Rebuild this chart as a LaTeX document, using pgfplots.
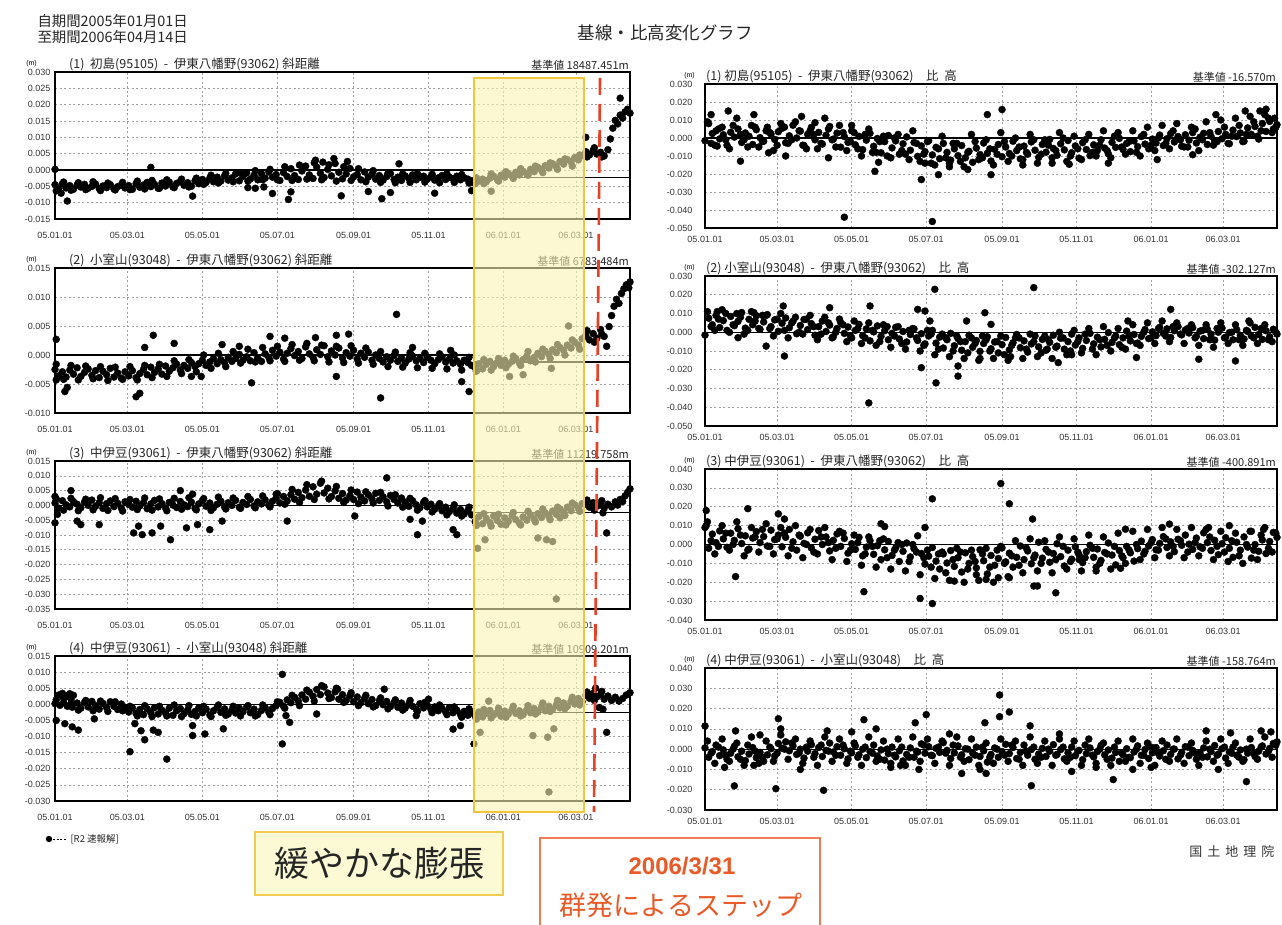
\documentclass[border=0pt]{standalone}
\usepackage{fontspec}
\setmainfont{Liberation Sans}
\newfontfamily\jp{Noto Sans CJK JP}
\usepackage{pgfplots}
\pgfplotsset{compat=1.18}
\definecolor{ovl}{RGB}{250,245,180}
\definecolor{ovlb}{RGB}{240,198,60}
\definecolor{redl}{RGB}{232,64,36}
\definecolor{orng}{RGB}{232,90,40}
\definecolor{lblbox}{RGB}{252,250,212}
\pgfplotsset{
  panel/.style={scale only axis, anchor=south west, xmin=0, xmax=468, clip=false,
    xtick={0,59,120,181,243,304,365,424},
    xticklabels={05.01.01,05.03.01,05.05.01,05.07.01,05.09.01,05.11.01,06.01.01,06.03.01},
    grid=major,
    major grid style={gray!75, line width=0.6pt, dash pattern=on 2pt off 2.5pt},
    major tick length=0pt,
    axis line style={black, line width=1.3pt},
    ticklabel style={font=\fontsize{9}{10}\selectfont, text=black!80},
  },
  lp/.style={panel, width=575pt, yticklabel style={xshift=-1pt}, xticklabel style={yshift=-10pt}},
  rp/.style={panel, width=572pt, yticklabel style={xshift=-9pt}, xticklabel style={yshift=-5pt}},
  pts/.style={only marks, mark=*, mark size=3.5pt, black, mark options={draw=black, fill=black}},
  zl/.style={black, line width=1.1pt, no marks},
}
\tikzset{tt/.style={font=\jp\fontsize{12.5}{14}\selectfont, text=black!85, inner sep=1pt},
  kj/.style={font=\jp\fontsize{11}{12}\selectfont, text=black!85, inner sep=1pt, anchor=south east},
  mm/.style={font=\fontsize{7}{8}\selectfont, inner sep=0pt, anchor=south east}}
\begin{document}
\begin{tikzpicture}[x=1pt,y=1pt]
\path[use as bounding box] (0,0) rectangle (1282,924);
\fill[white] (0,0) rectangle (1282,924);
% ---------------- L1
\begin{axis}[lp, at={(55pt,705pt)}, height=147pt, ymin=-15, ymax=30, ytick={-15,-10,...,30},
  yticklabels={-0.015,-0.010,-0.005,0.000,0.005,0.010,0.015,0.020,0.025,0.030}]
\addplot[zl] coordinates {(0,0)(341,0)};
\addplot[zl] coordinates {(341,-2.4)(468,-2.4)};
\addplot[pts] coordinates {(0,-4.5)(3,-5.8)(6,-4.2)(9,-5.5)(12,-4.8)(15,-5.9)(18,-4.6)(21,-5.2)(24,-4.4)(27,-5.6)(30,-5.0)(33,-4.3)(36,-5.7)(39,-4.9)(42,-5.4)(45,-4.5)(48,-5.8)(51,-5.1)(54,-4.6)(57,-5.5)(60,-4.8)(63,-5.9)(66,-4.2)(69,-5.3)(72,-4.6)(75,-3.8)(78,-5.1)(81,-4.4)(84,-5.6)(87,-4.0)(90,-4.9)(93,-3.7)(96,-5.2)(99,-4.1)(102,-3.5)(105,-4.7)(108,-3.9)(111,-5.0)(114,-3.3)(117,-4.2)(120,-2.9)(123,-3.8)(126,-2.5)(129,-3.6)(132,-2.2)(135,-3.4)(138,-1.8)(141,-3.1)(144,-2.4)(147,-1.2)(150,-3.3)(153,-2.0)(156,-0.9)(159,-2.8)(162,-1.6)(165,-3.0)(168,-1.1)(171,-2.5)(174,-0.6)(177,-2.2)(180,-1.4)(183,-3.2)(186,-0.8)(189,-2.0)(192,0.4)(195,-1.7)(198,-2.9)(201,-0.3)(204,1.2)(207,-1.5)(210,-2.6)(213,0.9)(216,-1.0)(219,-2.3)(222,0.2)(225,-1.8)(228,2.0)(231,-0.7)(234,-2.7)(237,-1.2)(240,0.5)(243,-2.1)(246,-1.4)(249,-3.0)(252,-0.6)(255,-2.2)(258,-1.3)(261,-2.8)(264,-1.7)(267,-3.1)(270,-2.0)(273,-1.1)(276,-2.9)(279,-2.2)(282,-3.2)(285,-1.8)(288,-2.6)(291,-1.5)(294,-3.0)(297,-2.3)(300,-1.9)(303,-2.8)(306,-2.1)(309,-3.1)(312,-2.4)(315,-1.7)(318,-2.9)(321,-2.2)(324,-2.7)(327,-1.9)(330,-3.0)(333,-2.4)(336,-2.8)(339,-3.3)(342,-4.2)(345,-3.4)(348,-2.8)(351,-3.6)(354,-2.5)(357,-1.9)(360,-2.9)(363,-1.6)(366,-2.2)(369,-1.1)(372,-1.8)(375,-0.7)(378,-1.5)(381,-0.4)(384,-1.2)(387,0.2)(390,-0.5)(393,0.8)(396,0.0)(399,1.3)(402,0.6)(405,1.9)(408,1.1)(411,2.6)(414,1.8)(417,3.2)(420,2.5)(423,3.8)(426,3.1)(429,4.4)(432,5.6)(435,4.6)(438,5.9)(441,4.9)(444,5.4)(447,4.3)(450,6.2)(452,9.5)(454,12.8)(456,15.2)(458,14.1)(460,16.8)(462,15.9)(464,17.8)(466,18.6)(468,17.4)
(1,-6.4)(7,-3.7)(13,-6.2)(19,-3.9)(25,-6.0)(31,-3.6)(37,-6.3)(43,-4.0)(49,-6.1)(55,-3.8)(61,-6.0)(67,-3.4)(73,-5.8)(79,-3.2)(85,-5.6)(91,-3.0)(97,-5.4)(103,-2.8)(109,-5.2)(115,-2.5)(121,-4.4)(127,-1.6)(133,-4.0)(139,-1.0)(145,-3.6)(151,-0.8)(157,-3.4)(163,-0.2)(169,-3.0)(175,0.2)(181,-3.0)(187,1.0)(193,-3.2)(199,1.5)(205,-2.8)(211,2.2)(217,-3.0)(223,1.6)(229,-3.4)(235,1.0)(241,-3.2)(247,0.4)(253,-3.6)(259,-0.2)(265,-3.8)(271,-1.0)(277,-3.9)(283,-1.2)(289,-3.8)(295,-1.1)(301,-3.7)(307,-1.3)(313,-3.9)(319,-1.2)(325,-3.8)(331,-1.4)(337,-4.0)(343,-2.4)(349,-4.2)(355,-1.2)(361,-3.4)(367,-0.5)(373,-2.6)(379,0.4)(385,-1.6)(391,1.2)(397,-0.8)(403,2.2)(409,0.2)(415,3.4)(421,1.2)(427,4.6)(433,4.0)(439,6.8)(445,4.0)
(0,0.2)(5,-7.1)(10,-9.5)(78,0.8)(112,-8.0)(157,-5.4)(163,-5.6)(170,-5.2)(177,-7.2)(190,-9.0)(192,-6.7)(212,3.0)(218,2.4)(227,3.5)(233,-7.9)(238,2.6)(255,-6.6)(266,-8.8)(273,-6.9)(280,1.9)(309,-7.1)(339,-6.3)(355,-6.5)(432,10.0)(460,22.0)};
\node[tt, anchor=south west, xshift=13pt] at (rel axis cs:0,1) {(1)\ \ 初島(95105)\ \ -\ \ 伊東八幡野(93062)\ 斜距離};
\node[kj] at (rel axis cs:1,1) {基準値 18487.451m};
\node[mm, xshift=-18pt, yshift=5pt] at (rel axis cs:0,1) {(m)};
\end{axis}
% ---------------- L2
\begin{axis}[lp, at={(55pt,511pt)}, height=145pt, ymin=-10, ymax=15, ytick={-10,-5,...,15},
  yticklabels={-0.010,-0.005,0.000,0.005,0.010,0.015}]
\addplot[zl] coordinates {(0,0)(341,0)};
\addplot[zl] coordinates {(341,-1.2)(468,-1.2)};
\addplot[pts] coordinates {(0,-2.5)(3,-3.6)(6,-2.9)(9,-3.8)(12,-2.6)(15,-3.3)(18,-2.2)(21,-3.7)(24,-3.0)(27,-2.4)(30,-3.5)(33,-2.7)(36,-3.9)(39,-2.8)(42,-3.4)(45,-2.3)(48,-3.8)(51,-3.1)(54,-4.0)(57,-2.9)(60,-3.6)(63,-2.7)(66,-3.9)(69,-3.2)(72,-2.5)(75,-3.4)(78,-2.1)(81,-3.0)(84,-2.4)(87,-3.3)(90,-1.9)(93,-2.8)(96,-2.2)(99,-1.6)(102,-2.6)(105,-1.8)(108,-2.3)(111,-1.3)(114,-2.0)(117,-1.5)(120,-0.9)(123,-1.8)(126,-1.2)(129,-0.6)(132,-1.5)(135,-0.8)(138,-1.3)(141,-0.4)(144,-1.1)(147,-0.6)(150,0.1)(153,-0.9)(156,-0.3)(159,-1.0)(162,0.4)(165,-0.5)(168,-1.1)(171,0.2)(174,-0.4)(177,0.8)(180,-0.2)(183,0.5)(186,-0.7)(189,0.3)(192,1.1)(195,-0.1)(198,0.6)(201,-0.6)(204,1.4)(207,0.2)(210,-0.4)(213,0.9)(216,0.1)(219,1.6)(222,-0.3)(225,0.7)(228,0.0)(231,1.2)(234,-0.5)(237,0.4)(240,-0.2)(243,0.8)(246,-0.7)(249,0.3)(252,-0.4)(255,0.5)(258,-0.9)(261,0.0)(264,-0.6)(267,-1.2)(270,-0.3)(273,-0.9)(276,-0.1)(279,-1.1)(282,-0.5)(285,-1.4)(288,-0.7)(291,-0.2)(294,-1.0)(297,-0.6)(300,-1.3)(303,-0.4)(306,-0.9)(309,-1.5)(312,-0.8)(315,-0.3)(318,-1.2)(321,-0.7)(324,-1.4)(327,-1.0)(330,-1.6)(333,-0.9)(336,-1.3)(339,-1.8)(342,-2.2)(345,-1.5)(348,-2.4)(351,-1.6)(354,-1.1)(357,-2.0)(360,-1.3)(363,-1.8)(366,-0.9)(369,-1.6)(372,-1.1)(375,-0.6)(378,-1.4)(381,-0.8)(384,-0.2)(387,-1.0)(390,-0.4)(393,0.3)(396,-0.3)(399,0.6)(402,0.1)(405,0.9)(408,0.4)(411,1.3)(414,0.8)(417,1.7)(420,1.2)(423,2.2)(426,1.7)(429,2.8)(432,3.4)(435,2.6)(438,3.7)(441,2.9)(444,4.4)(447,3.2)(449,1.5)(451,4.9)(453,6.8)(455,8.4)(457,9.6)(459,8.9)(461,10.6)(463,11.4)(465,12.1)(467,11.6)(468,12.6)
(1,-1.6)(7,-4.2)(13,-1.8)(19,-4.3)(25,-1.9)(31,-4.1)(37,-2.0)(43,-4.4)(49,-2.1)(55,-4.2)(61,-2.0)(67,-4.3)(73,-1.8)(79,-3.9)(85,-1.6)(91,-3.7)(97,-1.0)(103,-3.2)(109,-0.8)(115,-2.9)(121,0.0)(127,-2.3)(133,0.3)(139,-2.0)(145,0.6)(151,-1.4)(157,1.0)(163,-1.2)(169,1.3)(175,-1.0)(181,1.5)(187,-1.1)(193,1.8)(199,-0.9)(205,2.0)(211,-1.0)(217,1.7)(223,-1.2)(229,1.5)(235,-1.3)(241,1.6)(247,-1.4)(253,1.2)(259,-1.6)(265,0.6)(271,-2.0)(277,0.5)(283,-2.1)(289,0.4)(295,-2.2)(301,0.3)(307,-2.3)(313,0.2)(319,-2.4)(325,0.0)(331,-2.6)(337,-0.4)(343,-2.8)(349,-0.8)(355,-2.6)(361,-0.6)(367,-2.2)(373,-0.2)(379,-1.8)(385,0.6)(391,-1.2)(397,1.0)(403,-0.6)(409,1.8)(415,0.0)(421,2.6)(427,1.0)(433,4.2)(439,2.2)(445,3.6)
(1,2.7)(1,-4.3)(8,-6.3)(10,-5.6)(66,-7.2)(69,-6.6)(80,3.4)(73,1.3)(97,2.0)(111,-3.7)(119,-3.7)(136,1.8)(150,1.5)(160,-4.8)(175,3.2)(187,2.9)(212,3.0)(229,3.4)(239,3.6)(229,-3.7)(265,-7.4)(278,7.0)(291,1.3)(322,0.8)(331,-4.6)(337,-6.3)(370,-3.7)(381,-3.4)(404,-2.3)(418,5.0)};
\node[tt, anchor=south west, xshift=13pt] at (rel axis cs:0,1) {(2)\ \ 小室山(93048)\ \ -\ \ 伊東八幡野(93062)\ 斜距離};
\node[kj] at (rel axis cs:1,1) {基準値 6783.484m};
\node[mm, xshift=-18pt, yshift=5pt] at (rel axis cs:0,1) {(m)};
\end{axis}
% ---------------- L3
\begin{axis}[lp, at={(55pt,315pt)}, height=148pt, ymin=-35, ymax=15, ytick={-35,-30,...,15},
  yticklabels={-0.035,-0.030,-0.025,-0.020,-0.015,-0.010,-0.005,0.000,0.005,0.010,0.015}]
\addplot[zl] coordinates {(0,0)(341,0)};
\addplot[zl] coordinates {(341,-2.5)(468,-2.5)};
\addplot[pts] coordinates {(0,0.8)(3,-0.9)(6,1.6)(9,0.2)(12,-0.5)(15,1.3)(18,0.4)(21,-0.8)(24,1.1)(27,0.0)(30,1.8)(33,-0.3)(36,0.9)(39,-1.0)(42,0.6)(45,1.5)(48,-0.4)(51,0.7)(54,-0.9)(57,1.2)(60,0.3)(63,-0.6)(66,1.4)(69,-0.2)(72,0.9)(75,-1.1)(78,0.5)(81,1.7)(84,-0.5)(87,0.6)(90,-0.9)(93,1.0)(96,0.1)(99,-0.7)(102,1.3)(105,0.2)(108,-0.4)(111,1.1)(114,-1.0)(117,0.5)(120,1.6)(123,-0.3)(126,0.8)(129,-0.8)(132,0.4)(135,1.4)(138,-0.5)(141,0.9)(144,0.0)(147,1.7)(150,-0.6)(153,1.0)(156,0.3)(159,2.0)(162,-0.2)(165,1.2)(168,0.5)(171,1.9)(174,0.1)(177,1.4)(180,2.5)(183,0.8)(186,3.0)(189,1.5)(192,3.6)(195,2.1)(198,4.4)(201,2.6)(204,5.2)(207,3.1)(210,6.3)(213,3.8)(216,7.5)(219,4.2)(222,5.8)(225,3.0)(228,4.9)(231,2.4)(234,4.0)(237,1.8)(240,3.3)(243,2.0)(246,4.5)(249,2.8)(252,1.5)(255,3.6)(258,2.2)(261,4.1)(264,1.7)(267,2.9)(270,1.2)(273,3.4)(276,2.0)(279,0.8)(282,2.5)(285,1.1)(288,-0.3)(291,1.6)(294,0.2)(297,-0.8)(300,1.0)(303,-0.5)(306,0.4)(309,-1.3)(312,-0.2)(315,-1.8)(318,-0.6)(321,-2.1)(324,-1.0)(327,-2.6)(330,-1.4)(333,-2.9)(336,-1.7)(339,-3.2)(342,-5.5)(345,-3.8)(348,-6.2)(351,-4.4)(354,-5.8)(357,-3.6)(360,-5.1)(363,-6.4)(366,-4.2)(369,-5.4)(372,-3.5)(375,-4.8)(378,-6.0)(381,-3.9)(384,-5.0)(387,-3.2)(390,-4.6)(393,-2.8)(396,-4.1)(399,-2.5)(402,-3.7)(405,-1.9)(408,-3.0)(411,-1.2)(414,-2.4)(417,-0.6)(420,-1.8)(423,0.2)(426,-1.0)(429,0.6)(432,0.5)(435,-0.6)(438,0.9)(441,-0.3)(444,0.2)(447,-0.9)(450,0.4)(453,-0.5)(456,1.2)(458,0.1)(460,2.0)(462,1.3)(464,3.2)(466,4.4)(468,5.6)
(1,2.2)(7,-1.6)(13,2.4)(19,-1.8)(25,2.1)(31,-1.5)(37,2.6)(43,-1.7)(49,2.3)(55,-1.9)(61,2.0)(67,-1.4)(73,2.5)(79,-1.6)(85,2.2)(91,-1.8)(97,2.4)(103,-1.3)(109,2.6)(115,-1.5)(121,2.3)(127,-1.7)(133,2.8)(139,-1.2)(145,2.5)(151,-1.0)(157,3.0)(163,-0.8)(169,3.2)(175,-0.5)(181,4.0)(187,0.4)(193,5.4)(199,1.0)(205,7.0)(211,2.0)(217,8.2)(223,2.2)(229,6.4)(235,1.0)(241,5.2)(247,0.6)(253,4.6)(259,0.8)(265,4.4)(271,-0.2)(277,3.6)(283,-0.6)(289,2.4)(295,-1.6)(301,1.6)(307,-2.2)(313,0.6)(319,-3.2)(325,0.2)(331,-3.6)(337,-0.6)(343,-6.8)(349,-2.8)(355,-7.0)(361,-3.0)(367,-6.6)(373,-2.4)(379,-6.6)(385,-2.0)(391,-5.6)(397,-1.2)(403,-4.8)(409,-0.6)(415,-3.4)(421,0.8)(427,-2.0)(433,1.8)(439,-1.6)(445,1.6)
(0,-5.9)(2,-3.0)(0,3.0)(13,5.0)(18,-5.3)(21,-6.5)(36,-6.5)(64,-9.3)(68,-7.0)(71,-9.9)(79,-9.3)(86,-7.0)(94,-11.6)(102,5.0)(107,-7.6)(112,3.8)(116,-6.5)(126,-8.2)(136,-5.3)(180,3.8)(189,-5.3)(270,9.3)(244,-3.6)(289,-4.7)(295,-9.9)(299,-5.3)(324,-8.2)(327,-9.9)(344,-14.5)(350,-11.6)(393,-11.0)(400,-11.6)(405,-12.2)(408,-31.6)(411,-4.2)(449,-9.3)(446,-2.5)};
\node[tt, anchor=south west, xshift=13pt] at (rel axis cs:0,1) {(3)\ \ 中伊豆(93061)\ \ -\ \ 伊東八幡野(93062)\ 斜距離};
\node[kj] at (rel axis cs:1,1) {基準値 11219.758m};
\node[mm, xshift=-18pt, yshift=5pt] at (rel axis cs:0,1) {(m)};
\end{axis}
% ---------------- L4
\begin{axis}[lp, at={(55pt,123pt)}, height=145pt, ymin=-30, ymax=15, ytick={-30,-25,...,15},
  yticklabels={-0.030,-0.025,-0.020,-0.015,-0.010,-0.005,0.000,0.005,0.010,0.015}]
\addplot[zl] coordinates {(0,0)(341,0)};
\addplot[zl] coordinates {(341,-2.5)(468,-2.5)};
\addplot[pts] coordinates {(0,0.2)(3,2.9)(6,3.4)(9,2.6)(12,3.3)(14,-0.9)(15,2.8)(18,0.4)(21,-1.2)(24,0.6)(27,-0.8)(30,0.9)(33,-0.4)(36,-1.5)(39,0.3)(42,-1.0)(45,0.8)(48,-0.6)(51,-1.6)(54,0.1)(57,-0.9)(60,-2.4)(63,-1.1)(66,-2.8)(69,-1.6)(72,-3.2)(75,-1.4)(78,-2.6)(81,-1.0)(84,-3.0)(87,-1.8)(90,-2.7)(93,-1.2)(96,-3.4)(99,-2.0)(102,-1.3)(105,-2.9)(108,-1.7)(111,-3.1)(114,-2.2)(117,-1.1)(120,-2.6)(123,-1.5)(126,-3.3)(129,-2.0)(132,-0.9)(135,-2.5)(138,-1.4)(141,-3.0)(144,-1.8)(147,-2.7)(150,-1.2)(153,-2.3)(156,-0.8)(159,-2.6)(162,-1.5)(165,-3.2)(168,-1.9)(171,-1.0)(174,-2.4)(177,-1.3)(180,-0.4)(183,0.6)(186,-0.6)(189,1.4)(192,0.5)(195,2.2)(198,1.0)(201,2.9)(204,1.6)(207,3.8)(210,2.5)(213,4.6)(216,3.0)(219,5.4)(222,3.5)(225,2.1)(228,3.9)(231,1.6)(234,3.0)(237,1.2)(240,2.6)(243,0.8)(246,2.3)(249,0.5)(252,1.9)(255,0.2)(258,1.5)(261,-0.4)(264,1.2)(267,-0.1)(270,0.9)(273,-0.7)(276,0.6)(279,-0.9)(282,0.4)(285,-1.2)(288,0.1)(291,-0.6)(294,-1.5)(297,0.2)(300,-1.1)(303,-0.3)(306,-1.6)(309,-0.8)(312,-2.0)(315,-1.2)(318,-2.4)(321,-1.0)(324,-2.6)(327,-1.8)(330,-3.1)(333,-2.2)(336,-3.4)(339,-2.6)(342,-3.6)(345,-2.4)(348,-3.9)(351,-2.8)(354,-1.9)(357,-3.3)(360,-2.5)(363,-3.7)(366,-2.1)(369,-3.0)(372,-1.6)(375,-2.8)(378,-2.0)(381,-3.2)(384,-1.7)(387,-2.6)(390,-1.3)(393,-2.4)(396,-0.9)(399,-2.0)(402,-0.6)(405,-1.6)(408,-0.2)(411,-1.1)(414,0.4)(417,-0.6)(420,1.0)(423,0.1)(426,1.8)(429,0.8)(432,2.8)(435,1.9)(438,3.4)(441,2.3)(444,3.0)(447,1.6)(450,2.6)(453,1.2)(456,2.2)(459,1.0)(462,1.8)(465,2.9)(468,3.6)
(1,1.4)(7,1.8)(13,1.6)(19,-1.8)(25,1.2)(31,-2.0)(37,1.0)(43,-2.2)(49,0.8)(55,-2.0)(61,-0.6)(67,-3.6)(73,-0.4)(79,-3.8)(85,-0.6)(91,-3.6)(97,-0.2)(103,-3.8)(109,-0.4)(115,-3.6)(121,-0.6)(127,-3.8)(133,-0.2)(139,-3.4)(145,-0.6)(151,-3.6)(157,-0.4)(163,-3.6)(169,-0.2)(175,-3.2)(181,0.8)(187,-1.2)(193,2.8)(199,-0.4)(205,4.4)(211,1.0)(217,5.8)(223,1.8)(229,5.0)(235,0.6)(241,3.6)(247,-0.4)(253,2.8)(259,-0.8)(265,2.0)(271,-1.4)(277,1.4)(283,-1.8)(289,1.2)(295,-2.2)(301,0.6)(307,-2.6)(313,-0.2)(319,-3.2)(325,-0.8)(331,-4.0)(337,-1.4)(343,-4.6)(349,-1.6)(355,-4.2)(361,-1.2)(367,-4.0)(373,-0.6)(379,-3.6)(385,-0.4)(391,-3.0)(397,0.4)(403,-2.2)(409,1.2)(415,-1.4)(421,2.2)(427,-0.2)(433,3.8)(439,1.2)(445,4.0)
(4,-0.3)(7,0.5)(10,-0.6)(13,0.2)(1,-5.0)(8,-6.0)(14,-7.0)(19,-8.0)(32,-4.5)(61,-14.7)(65,-6.0)(70,-8.2)(73,-11.0)(80,-8.0)(84,-8.7)(91,-17.0)(112,-6.6)(112,-9.7)(122,-9.2)(137,-7.6)(185,9.3)(185,-12.3)(191,-5.6)(188,-3.5)(230,4.7)(213,-3.0)(268,4.7)(304,1.6)(294,-3.5)(324,-7.7)(330,-6.6)(341,-12.3)(346,-8.7)(353,1.0)(389,-9.7)(401,-10.2)(402,-27.2)(406,-7.6)(449,-8.7)(443,-1.0)(446,-1.5)(440,5.0)};
\node[tt, anchor=south west, xshift=13pt] at (rel axis cs:0,1) {(4)\ \ 中伊豆(93061)\ \ -\ \ 小室山(93048)\ 斜距離};
\node[kj] at (rel axis cs:1,1) {基準値 10909.201m};
\node[mm, xshift=-18pt, yshift=5pt] at (rel axis cs:0,1) {(m)};
\end{axis}
% ---------------- R1
\begin{axis}[rp, at={(705pt,696pt)}, height=144pt, ymin=-50, ymax=30, ytick={-50,-40,...,30},
  yticklabels={-0.050,-0.040,-0.030,-0.020,-0.010,0.000,0.010,0.020,0.030}]
\addplot[zl] coordinates {(0,0)(468,0)};
\addplot[pts] coordinates {(0,-1.5)(3,8.0)(6,2.5)(9,4.0)(12,-0.5)(15,1.8)(18,-4.0)(21,3.2)(24,0.5)(27,5.0)(30,-2.5)(33,2.8)(36,1.0)(39,-3.6)(42,4.6)(45,0.2)(48,-1.8)(51,6.0)(54,2.2)(57,-0.8)(60,3.5)(63,5.4)(66,-2.6)(69,1.2)(72,7.1)(75,0.0)(78,3.8)(81,-4.2)(84,2.0)(87,5.9)(90,-1.0)(93,3.1)(96,-3.4)(99,1.5)(102,6.4)(105,-0.6)(108,2.7)(111,-5.1)(114,0.8)(117,-2.4)(120,4.0)(123,-3.8)(126,0.9)(129,-6.5)(132,-1.2)(135,2.6)(138,-4.6)(141,-0.3)(144,-8.2)(147,-2.0)(150,1.4)(153,-5.5)(156,-1.6)(159,-9.0)(162,-3.2)(165,0.6)(168,-6.8)(171,-2.5)(174,-10.2)(177,-4.4)(180,-7.6)(183,-1.5)(186,-9.4)(189,-5.2)(192,-11.5)(195,-3.0)(198,-8.0)(201,-12.3)(204,-6.0)(207,-9.8)(210,-4.2)(213,-11.0)(216,-7.4)(219,-13.5)(222,-5.6)(225,-9.2)(228,-2.8)(231,-8.5)(234,-12.8)(237,-6.3)(240,-3.6)(243,-10.4)(246,-5.0)(249,-8.6)(252,-1.8)(255,-7.0)(258,-11.6)(261,-4.5)(264,-9.0)(267,-2.2)(270,-6.8)(273,-10.8)(276,-3.6)(279,-7.9)(282,-0.8)(285,-5.8)(288,-9.6)(291,-3.2)(294,-6.6)(297,-1.4)(300,-8.2)(303,-4.4)(306,-11.2)(309,-2.6)(312,-6.4)(315,-9.8)(318,-3.8)(321,-7.0)(324,-1.0)(327,-5.6)(330,-8.8)(333,-2.4)(336,-5.2)(339,-0.2)(342,-6.4)(345,-3.0)(348,-7.6)(351,-1.6)(354,-4.8)(357,0.8)(360,-3.4)(363,-6.0)(366,-0.6)(369,-2.8)(372,1.6)(375,-4.2)(378,-0.4)(381,2.4)(384,-2.2)(387,0.8)(390,-4.6)(393,1.8)(396,-1.2)(399,3.0)(402,-2.8)(405,0.4)(408,2.6)(411,-3.6)(414,1.0)(417,-1.6)(420,3.6)(423,-0.4)(426,2.0)(429,-3.2)(432,4.4)(435,0.8)(438,2.8)(441,-1.8)(444,5.6)(447,2.0)(450,6.4)(453,-0.6)(456,8.0)(459,3.6)(462,9.2)(465,5.0)(468,7.4)
(2,9)(8,-4)(14,6)(20,-6)(26,11)(32,-1)(38,7)(44,-5)(50,4)(56,-7)(62,8)(68,-3)(74,9)(80,-4)(86,4)(92,-6)(98,11)(104,-1)(110,7)(116,-7)(122,3)(128,-10)(134,5)(140,-8)(146,1)(152,-11)(158,2)(164,-9)(170,4)(176,-13)(182,-2)(188,-15)(194,1)(200,-14)(206,-3)(212,-16)(218,2)(224,-12)(230,-1)(236,-15)(242,3)(248,-13)(254,0)(260,-12)(266,2)(272,-14)(278,-1)(284,-11)(290,3)(296,-13)(302,1)(308,-12)(314,2)(320,-10)(326,4)(332,-11)(338,3)(344,-9)(350,4)(356,-10)(362,6)(368,-7)(374,7)(380,-6)(386,8)(392,-5)(398,6)(404,-7)(410,9)(416,-4)(422,10)(428,-3)(434,11)(440,-2)(446,12)(452,1)(458,13)(464,3)
(5,-3)(11,5)(17,-1)(23,7)(29,2)(35,-5)(41,6)(47,-2)(53,3)(59,-4)(65,6)(71,-1)(77,4)(83,-6)(89,2)(95,-3)(101,5)(107,-5)(113,3)(119,-2)(125,-6)(131,2)(137,-8)(143,-2)(149,-10)(155,0)(161,-7)(167,-12)(173,-3)(179,-9)(185,-14)(191,-6)(197,-11)(203,-3)(209,-13)(215,-8)(221,-2)(227,-11)(233,-6)(239,-9)(245,-2)(251,-10)(257,-5)(263,-8)(269,-1)(275,-9)(281,-4)(287,-7)(293,0)(299,-10)(305,-6)(311,-1)(317,-8)(323,-4)(329,-7)(335,1)(341,-5)(347,-2)(353,-8)(359,2)(365,-4)(371,0)(377,-3)(383,4)(389,-1)(395,-5)(401,5)(407,-1)(413,3)(419,-2)(425,6)(431,1)(437,7)(443,2)(449,9)(455,4)(461,11)(467,6)
(5,13.0)(10,-4.5)(19,15.0)(29,-12.9)(40,13.0)(52,-8.2)(66,-10.0)(79,12.0)(101,-11.0)(114,-44.0)(139,-18.5)(142,-13.5)(177,-23.1)(180,-14.0)(191,-20.4)(186,-46.4)(234,-20.4)(231,13.0)(243,15.8)(298,-14.6)(284,-14.0)(399,-9.3)(418,13.0)(442,15.0)(454,15.0)(459,16.0)(466,11.0)(120,7.0)(90,8.5)(200,-16.0)(215,-17.5)(260,-15.0)(330,-14.0)(370,-12.0)};
\node[tt, anchor=south west] at (rel axis cs:0,1) {(1)\ 初島(95105)\ \ -\ \ 伊東八幡野(93062)\quad 比\ \ 高};
\node[kj] at (rel axis cs:1,1) {基準値 -16.570m};
\node[mm, xshift=-10pt, yshift=5pt] at (rel axis cs:0,1) {(m)};
\end{axis}
% ---------------- R2
\begin{axis}[rp, at={(705pt,498pt)}, height=150pt, ymin=-50, ymax=30, ytick={-50,-40,...,30},
  yticklabels={-0.050,-0.040,-0.030,-0.020,-0.010,0.000,0.010,0.020,0.030}]
\addplot[zl] coordinates {(0,0)(468,0)};
\addplot[pts] coordinates {(0,-1.5)(3,7.5)(6,4.0)(9,9.0)(12,2.5)(15,6.2)(18,1.0)(21,8.4)(24,3.5)(27,5.8)(30,10.5)(33,2.2)(36,6.9)(39,4.0)(42,8.8)(45,1.6)(48,5.5)(51,9.4)(54,3.0)(57,6.6)(60,0.5)(63,4.8)(66,7.6)(69,2.4)(72,5.9)(75,-0.8)(78,3.6)(81,6.8)(84,1.4)(87,4.6)(90,-1.6)(93,3.0)(96,6.0)(99,0.4)(102,3.8)(105,-2.4)(108,2.0)(111,5.2)(114,-0.6)(117,2.8)(120,-3.0)(123,1.0)(126,4.2)(129,-1.8)(132,1.8)(135,-4.6)(138,0.2)(141,3.4)(144,-2.2)(147,0.8)(150,-4.0)(153,-0.6)(156,2.6)(159,-3.6)(162,0.4)(165,-5.2)(168,-1.2)(171,1.8)(174,-4.4)(177,-0.8)(180,-6.2)(183,-2.0)(186,1.0)(189,-5.8)(192,-2.6)(195,-8.4)(198,-4.0)(201,-0.6)(204,-7.2)(207,-3.4)(210,-9.6)(213,-5.0)(216,-1.6)(219,-8.0)(222,-4.4)(225,-10.2)(228,-6.0)(231,-2.4)(234,-8.8)(237,-5.2)(240,-11.0)(243,-6.6)(246,-2.8)(249,-9.4)(252,-5.6)(255,-1.2)(258,-8.2)(261,-4.6)(264,-10.6)(267,-6.2)(270,-2.0)(273,-7.8)(276,-3.8)(279,-9.6)(282,-5.4)(285,-1.6)(288,-7.4)(291,-3.2)(294,-9.0)(297,-5.0)(300,-1.0)(303,-6.8)(306,-3.0)(309,-8.6)(312,-4.4)(315,-0.6)(318,-6.2)(321,-2.6)(324,-7.8)(327,-3.8)(330,-0.2)(333,-5.4)(336,-2.0)(339,-6.6)(342,-3.0)(345,0.6)(348,-4.6)(351,-1.2)(354,-5.8)(357,-2.2)(360,1.4)(363,-3.4)(366,0.2)(369,-1.8)(372,2.6)(375,-0.6)(378,1.8)(381,-2.8)(384,0.8)(387,3.0)(390,-1.4)(393,1.2)(396,-0.4)(399,2.4)(402,-2.2)(405,0.6)(408,-3.4)(411,1.6)(414,-1.0)(417,-4.2)(420,0.0)(423,2.2)(426,-2.6)(429,-0.2)(432,-4.0)(435,1.4)(438,-1.6)(441,-3.6)(444,0.4)(447,-2.0)(450,2.6)(453,-1.2)(456,-3.8)(459,0.8)(462,-2.4)(465,1.6)(468,-1.0)
(2,11)(8,1)(14,12)(20,0)(26,10)(32,-1)(38,11)(44,2)(50,9)(56,-2)(62,10)(68,-3)(74,8)(80,-1)(86,9)(92,-4)(98,8)(104,-3)(110,7)(116,-5)(122,6)(128,-6)(134,5)(140,-7)(146,4)(152,-8)(158,3)(164,-9)(170,2)(176,-10)(182,1)(188,-12)(194,-1)(200,-13)(206,-2)(212,-14)(218,-3)(224,-15)(230,-4)(236,-14)(242,-2)(248,-15)(254,-3)(260,-14)(266,-1)(272,-13)(278,-2)(284,-14)(290,0)(296,-12)(302,1)(308,-11)(314,2)(320,-12)(326,3)(332,-10)(338,2)(344,-9)(350,4)(356,-7)(362,5)(368,-6)(374,6)(380,-5)(386,5)(392,-6)(398,4)(404,-7)(410,4)(416,-8)(422,5)(428,-6)(434,4)(440,-7)(446,5)(452,-6)(458,4)(464,-5)
(5,3)(11,7)(17,10)(23,4)(29,8)(35,1)(41,6)(47,9)(53,2)(59,7)(65,1)(71,5)(77,0)(83,7)(89,3)(95,-1)(101,5)(107,0)(113,4)(119,-2)(125,2)(131,-3)(137,1)(143,-5)(149,3)(155,-2)(161,-6)(167,1)(173,-3)(179,-7)(185,-1)(191,-9)(197,-3)(203,-10)(209,-5)(215,-11)(221,-6)(227,-2)(233,-10)(239,-5)(245,-12)(251,-7)(257,-3)(263,-9)(269,-5)(275,-11)(281,-4)(287,-8)(293,-3)(299,-10)(305,-5)(311,-1)(317,-9)(323,-4)(329,-7)(335,-3)(341,-8)(347,-2)(353,-6)(359,0)(365,-3)(371,2)(377,-2)(383,3)(389,-1)(395,2)(401,-3)(407,1)(413,-4)(419,2)(425,-3)(431,0)(437,-4)(443,1)(449,-3)(455,2)(461,-4)(467,0)
(188,22.9)(269,23.8)(134,-37.7)(189,-27.0)(207,-23.4)(177,-18.9)(207,-18.0)(135,14.0)(174,12.2)(180,11.3)(64,14.0)(102,13.1)(229,10.4)(381,12.2)(346,6.0)(353,-13.5)(404,-14.4)(434,-15.3)(289,-16.2)(65,-12.7)(50,-7.4)(10,11.0)(40,10.5)(184,6.0)(214,6.0)(234,4.2)(27,-2.9)(445,6.0)(280,-9.0)(225,-14.0)(250,-13.0)(300,-12.0)};
\node[tt, anchor=south west] at (rel axis cs:0,1) {(2)\ 小室山(93048)\ \ -\ \ 伊東八幡野(93062)\quad 比\ \ 高};
\node[kj] at (rel axis cs:1,1) {基準値 -302.127m};
\node[mm, xshift=-10pt, yshift=5pt] at (rel axis cs:0,1) {(m)};
\end{axis}
% ---------------- R3
\begin{axis}[rp, at={(705pt,304pt)}, height=151pt, ymin=-40, ymax=40, ytick={-40,-30,...,40},
  yticklabels={-0.040,-0.030,-0.020,-0.010,0.000,0.010,0.020,0.030,0.040}]
\addplot[zl] coordinates {(0,0)(468,0)};
\addplot[pts] coordinates {(0,9.0)(3,-2.0)(6,5.5)(9,1.0)(12,7.2)(15,3.0)(18,-1.5)(21,6.0)(24,2.2)(27,8.4)(30,0.5)(33,4.6)(36,-2.4)(39,3.4)(42,6.8)(45,1.0)(48,4.2)(51,-0.8)(54,7.6)(57,2.6)(60,5.0)(63,-1.2)(66,3.8)(69,8.0)(72,1.4)(75,-3.0)(78,4.4)(81,0.6)(84,6.2)(87,-1.8)(90,2.8)(93,7.4)(96,0.0)(99,4.0)(102,-3.4)(105,2.2)(108,5.6)(111,-1.0)(114,3.2)(117,-4.6)(120,0.4)(123,-2.6)(126,3.8)(129,-6.0)(132,-1.4)(135,2.0)(138,-5.2)(141,-0.6)(144,-8.0)(147,-2.8)(150,1.6)(153,-5.8)(156,-1.8)(159,-9.0)(162,-3.6)(165,0.8)(168,-6.6)(171,-2.2)(174,4.6)(177,-4.8)(180,-10.4)(183,-6.2)(186,-1.6)(189,-8.8)(192,-13.0)(195,-5.0)(198,-9.8)(201,-3.2)(204,-11.6)(207,-7.0)(210,-14.6)(213,-4.4)(216,-10.0)(219,-6.4)(222,-12.4)(225,-2.8)(228,-8.6)(231,-15.6)(234,-5.8)(237,-11.0)(240,-7.4)(243,-1.8)(246,-9.2)(249,-4.6)(252,-12.0)(255,-6.8)(258,-0.8)(261,-8.0)(264,-3.4)(267,-10.2)(270,-5.6)(273,1.2)(276,-7.2)(279,-2.6)(282,-9.4)(285,-4.8)(288,0.4)(291,-6.4)(294,-11.4)(297,-3.0)(300,-7.8)(303,-1.2)(306,-5.4)(309,-9.6)(312,-3.8)(315,-0.4)(318,-6.8)(321,-2.4)(324,-8.4)(327,-4.2)(330,0.8)(333,-5.6)(336,-10.8)(339,-3.2)(342,-7.0)(345,-1.0)(348,-4.4)(351,-8.8)(354,-2.2)(357,1.8)(360,-3.6)(363,-0.8)(366,2.6)(369,-2.8)(372,0.6)(375,4.2)(378,-1.6)(381,1.4)(384,-3.8)(387,2.8)(390,-0.4)(393,5.0)(396,0.2)(399,-2.6)(402,3.4)(405,-1.2)(408,6.2)(411,1.0)(414,-3.2)(417,2.2)(420,-5.4)(423,0.4)(426,3.6)(429,-2.0)(432,-6.8)(435,1.2)(438,-3.0)(441,4.0)(444,-1.4)(447,-7.2)(450,0.0)(453,-3.6)(456,2.4)(459,-4.8)(462,1.6)(465,6.4)(468,3.8)
(2,12)(8,-5)(14,10)(20,-3)(26,12)(32,-6)(38,9)(44,-4)(50,11)(56,-5)(62,9)(68,-6)(74,10)(80,-7)(86,8)(92,-5)(98,9)(104,-8)(110,7)(116,-9)(122,5)(128,-11)(134,4)(140,-12)(146,3)(152,-13)(158,1)(164,-14)(170,0)(176,-16)(182,-3)(188,-18)(194,-4)(200,-19)(206,-2)(212,-20)(218,-3)(224,-19)(230,-2)(236,-20)(242,-1)(248,-17)(254,2)(260,-15)(266,3)(272,-14)(278,2)(284,-15)(290,4)(296,-13)(302,3)(308,-14)(314,5)(320,-12)(326,4)(332,-13)(338,6)(344,-10)(350,7)(356,-8)(362,8)(368,-7)(374,9)(380,-6)(386,8)(392,-7)(398,9)(404,-6)(410,8)(416,-8)(422,7)(428,-9)(434,6)(440,-10)(446,7)(452,-8)(458,9)(464,-4)
(5,2)(11,-1)(17,6)(23,0)(29,5)(35,-3)(41,4)(47,8)(53,-1)(59,3)(65,6)(71,-2)(77,5)(83,0)(89,-4)(95,4)(101,1)(107,-2)(113,6)(119,-3)(125,1)(131,-5)(137,-1)(143,2)(149,-7)(155,-3)(161,0)(167,-9)(173,-4)(179,-7)(185,-12)(191,-5)(197,-15)(203,-8)(209,-4)(215,-13)(221,-9)(227,-5)(233,-12)(239,-3)(245,-10)(251,-6)(257,-11)(263,-2)(269,-7)(275,-10)(281,-4)(287,-8)(293,-1)(299,-9)(305,-4)(311,-7)(317,-2)(323,-10)(329,-5)(335,-1)(341,-6)(347,-3)(353,0)(359,-5)(365,1)(371,-3)(377,3)(383,-1)(389,2)(395,-4)(401,1)(407,-2)(413,4)(419,-1)(425,-4)(431,2)(437,-6)(443,0)(449,-3)(455,5)(461,-2)(467,6)
(1,18.0)(1,10.0)(35,19.0)(60,16.2)(65,13.5)(25,-17.0)(186,24.2)(242,32.3)(249,21.6)(268,13.5)(130,-25.0)(176,-28.6)(186,-31.3)(269,-22.0)(272,-22.0)(287,-25.6)(204,-19.4)(230,-18.5)(240,-17.6)(249,-17.6)(144,11.0)(147,9.5)(344,8.1)(380,10.8)(412,9.0)(429,10.0)(447,7.0)(457,8.0)(306,-8.0)(340,-12.6)(180,9.0)(320,-14.0)(222,-16.0)};
\node[tt, anchor=south west] at (rel axis cs:0,1) {(3)\ 中伊豆(93061)\ \ -\ \ 伊東八幡野(93062)\quad 比\ \ 高};
\node[kj] at (rel axis cs:1,1) {基準値 -400.891m};
\node[mm, xshift=-10pt, yshift=5pt] at (rel axis cs:0,1) {(m)};
\end{axis}
% ---------------- R4
\begin{axis}[rp, at={(705pt,114pt)}, height=142pt, ymin=-30, ymax=40, ytick={-30,-20,...,40},
  yticklabels={-0.030,-0.020,-0.010,0.000,0.010,0.020,0.030,0.040}]
\addplot[zl] coordinates {(0,0)(468,0)};
\addplot[pts] coordinates {(0,0.6)(3,-4.0)(6,-1.2)(9,2.0)(12,-3.2)(15,-0.4)(18,-5.0)(21,-2.0)(24,1.4)(27,-3.8)(30,-1.0)(33,-5.6)(36,-2.4)(39,0.8)(42,-4.2)(45,-1.6)(48,-6.0)(51,-2.8)(54,0.2)(57,-3.4)(60,2.8)(63,0.4)(66,3.6)(69,-0.8)(72,1.6)(75,-2.6)(78,0.0)(81,-4.4)(84,-1.0)(87,2.2)(90,-2.2)(93,0.8)(96,-3.6)(99,-0.6)(102,3.0)(105,-1.4)(108,1.2)(111,-3.0)(114,0.2)(117,-4.8)(120,-1.8)(123,1.6)(126,-2.8)(129,0.0)(132,-4.2)(135,-1.2)(138,2.0)(141,-3.4)(144,-0.4)(147,-5.4)(150,-2.2)(153,1.0)(156,-3.8)(159,-0.8)(162,-5.8)(165,-2.6)(168,0.6)(171,-4.0)(174,-1.4)(177,2.6)(180,-2.0)(183,1.2)(186,-3.2)(189,0.4)(192,-1.6)(195,3.2)(198,-0.6)(201,-4.6)(204,-1.8)(207,1.6)(210,-2.8)(213,0.2)(216,-5.2)(219,-2.0)(222,1.0)(225,-3.6)(228,-0.8)(231,-6.4)(234,-2.6)(237,0.6)(240,-4.0)(243,-1.2)(246,2.4)(249,-2.2)(252,0.8)(255,-4.6)(258,-1.6)(261,2.0)(264,-3.0)(267,-0.2)(270,-5.0)(273,-2.4)(276,0.4)(279,-3.6)(282,-1.0)(285,2.2)(288,-2.6)(291,-0.2)(294,-4.8)(297,-1.8)(300,1.0)(303,-3.2)(306,-0.6)(309,-5.2)(312,-2.2)(315,0.6)(318,-3.8)(321,-1.2)(324,1.8)(327,-2.8)(330,-0.4)(333,-4.4)(336,-1.6)(339,-6.0)(342,-2.8)(345,0.2)(348,-4.2)(351,-1.4)(354,1.6)(357,-3.0)(360,-0.2)(363,-4.6)(366,-1.8)(369,0.8)(372,-3.4)(375,-0.8)(378,2.0)(381,-2.6)(384,0.0)(387,-4.8)(390,-1.6)(393,1.2)(396,-3.2)(399,-0.6)(402,-5.0)(405,-2.0)(408,0.6)(411,-3.8)(414,-1.2)(417,1.8)(420,-2.4)(423,0.2)(426,-4.4)(429,-1.4)(432,1.0)(435,-3.0)(438,-0.4)(441,-5.2)(444,-2.0)(447,0.8)(450,-3.6)(453,-1.0)(456,1.6)(459,-2.4)(462,0.4)(465,2.8)(468,3.6)
(2,4)(8,-7)(14,5)(20,-6)(26,3)(32,-8)(38,6)(44,-7)(50,4)(56,-6)(62,7)(68,-5)(74,5)(80,-7)(86,4)(92,-8)(98,6)(104,-6)(110,5)(116,-7)(122,3)(128,-8)(134,6)(140,-6)(146,4)(152,-7)(158,5)(164,-8)(170,6)(176,-6)(182,5)(188,-7)(194,4)(200,-8)(206,6)(212,-6)(218,5)(224,-8)(230,3)(236,-7)(242,5)(248,-6)(254,4)(260,-8)(266,6)(272,-7)(278,4)(284,-8)(290,5)(296,-6)(302,4)(308,-8)(314,5)(320,-7)(326,3)(332,-8)(338,4)(344,-6)(350,5)(356,-7)(362,3)(368,-8)(374,4)(380,-6)(386,5)(392,-7)(398,3)(404,-8)(410,4)(416,-6)(422,5)(428,-7)(434,3)(440,-6)(446,5)(452,-5)(458,6)(464,-4)
(5,-2)(11,1)(17,-3)(23,0)(29,-5)(35,2)(41,-1)(47,-4)(53,1)(59,-2)(65,0)(71,3)(77,-2)(83,1)(89,-4)(95,2)(101,-1)(107,-3)(113,2)(119,-1)(125,-4)(131,1)(137,-2)(143,-5)(149,0)(155,-3)(161,1)(167,-4)(173,-1)(179,2)(185,-3)(191,1)(197,-2)(203,2)(209,-4)(215,0)(221,-3)(227,1)(233,-4)(239,0)(245,-3)(251,2)(257,-5)(263,-1)(269,1)(275,-4)(281,0)(287,-3)(293,1)(299,-4)(305,-1)(311,2)(317,-3)(323,0)(329,-5)(335,1)(341,-2)(347,-4)(353,0)(359,-3)(365,1)(371,-2)(377,-5)(383,0)(389,-3)(395,1)(401,-2)(407,-4)(413,0)(419,-3)(425,1)(431,-2)(437,-4)(443,0)(449,-2)(455,1)(461,-1)(467,2)
(0,11.4)(241,26.7)(241,16.0)(249,18.3)(60,15.0)(62,10.0)(181,17.0)(172,13.0)(130,14.5)(140,10.0)(229,13.0)(266,11.5)(24,-18.1)(58,-19.5)(97,-20.3)(267,-18.0)(334,-15.0)(443,-16.0)(25,9.0)(45,7.0)(100,9.0)(120,8.5)(200,7.5)(290,7.5)(410,9.0)(430,8.0)(455,9.0)(463,8.5)(210,-12.0)(230,-12.0)(225,-10.0)(175,-10.0)(152,-9.0)(160,-8.0)(16,-9.0)(40,-8.0)(78,-10.0)(320,-9.0)(350,-10.0)(365,-9.0)(420,-10.0)(300,-11.0)};
\node[tt, anchor=south west] at (rel axis cs:0,1) {(4)\ 中伊豆(93061)\ \ -\ \ 小室山(93048)\quad 比\ \ 高};
\node[kj] at (rel axis cs:1,1) {基準値 -158.764m};
\node[mm, xshift=-10pt, yshift=5pt] at (rel axis cs:0,1) {(m)};
\end{axis}
% ---------------- overlays
\fill[ovl, fill opacity=0.6] (474,112) rectangle (584,846);
\draw[ovlb, line width=2.6pt] (474,112) rectangle (584,846);
\draw[redl, line width=2.6pt, dash pattern=on 17pt off 9pt] (600,846) -- (594,112);
% header
\node[anchor=west, font=\jp\fontsize{14.4}{15}\selectfont, text=black!85] at (34,903) {自期間2005年01月01日};
\node[anchor=west, font=\jp\fontsize{14.4}{15}\selectfont, text=black!85] at (34,887) {至期間2006年04月14日};
\node[font=\jp\fontsize{17.5}{18}\selectfont, text=black!85] at (665,891) {基線・比高変化グラフ};
% legend
\fill[black] (49,85) circle (3.2pt);
\draw[black, line width=0.6pt, dash pattern=on 2pt off 1.5pt] (53,85) -- (66,85);
\node[anchor=west, font=\jp\fontsize{9.5}{10}\selectfont, text=black!85] at (67,85) {[R2 速報解]};
% annotation boxes
\draw[ovlb!90, fill=lblbox, line width=1.6pt] (255,29) rectangle (503,92);
\node[font=\jp\fontsize{35}{40}\selectfont, text=black!85] at (379,61) {緩やかな膨張};
\draw[orng!80, line width=1.2pt] (540,-5) rectangle (820,86);
\node[font=\bfseries\fontsize{24}{26}\selectfont, text=orng] at (682,58) {2006/3/31};
\node[font=\jp\fontsize{27}{30}\selectfont, text=orng] at (681,19) {群発によるステップ};
\node[anchor=east, font=\jp\fontsize{13}{14}\selectfont, text=black!80] at (1278,72) {国\hspace{5pt}土\hspace{5pt}地\hspace{5pt}理\hspace{5pt}院};
\end{tikzpicture}
\end{document}
